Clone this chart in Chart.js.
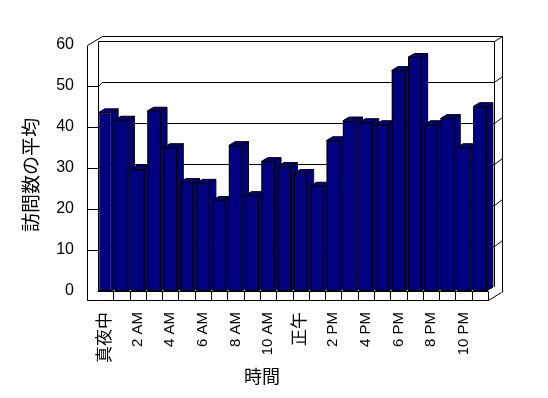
<!DOCTYPE html>
<html>
<head>
<meta charset="utf-8">
<script src="https://cdn.jsdelivr.net/npm/chart.js@4/dist/chart.umd.min.js"></script>
<style>
html,body{margin:0;padding:0;background:#fff;}
#wrap{width:548px;height:398px;}
</style>
</head>
<body>
<div id="wrap"><canvas id="c" width="548" height="398"></canvas></div>
<script>
// ---- data ----
const hours = ['真夜中','1 AM','2 AM','3 AM','4 AM','5 AM','6 AM','7 AM','8 AM','9 AM','10 AM','11 AM',
               '正午','1 PM','2 PM','3 PM','4 PM','5 PM','6 PM','7 PM','8 PM','9 PM','10 PM','11 PM'];
const visits = [43.5,41.7,29.8,43.9,35.0,26.5,26.3,22.1,35.5,23.3,31.6,30.4,
                28.7,25.6,36.7,41.5,41.1,40.6,53.8,57.0,40.6,42.1,35.0,45.0];
const yTickValues = [0,10,20,30,40,50,60];
const xTitle = '時間';
const yTitle = '訪問数の平均';

const FONT = "'Liberation Sans', 'Noto Sans CJK JP', sans-serif";
const CJK = "'Noto Sans CJK JP', sans-serif";
const NAVY = '#000080';
const DX = 6.3, DY = -3.8;

const r = v => Math.round(v) + 0.5;

const deco = {
  id: 'deco',
  beforeDatasetsDraw(chart) {
    const {ctx, chartArea: {left: L, right: R, top: T, bottom: B}, scales: {y}} = chart;
    ctx.save();
    ctx.strokeStyle = '#000';
    ctx.lineWidth = 1;
    const line = pts => { ctx.beginPath(); pts.forEach((p, i) => i ? ctx.lineTo(r(p[0]), r(p[1])) : ctx.moveTo(r(p[0]), r(p[1]))); ctx.stroke(); };
    const xo = L - 10;
    yTickValues.forEach(v => {
      if (v === 0 || v === 60) return;
      const yf = y.getPixelForValue(v);
      line([[xo, yf], [L + 1, yf], [L + 5, yf - 4], [R + 6, yf - 4], [R + 14, yf - 10]]);
    });
    line([[xo, T], [L + 5, T - 9], [R + 14, T - 9]]);
    line([[L + 1, T - 4], [R + 6, T - 4], [R + 14, T - 9]]);
    line([[xo, T], [xo, B + 9]]);
    line([[L + 1, T - 4], [L + 1, B]]);
    line([[R + 6, T - 4], [R + 6, B]]);
    line([[R + 14, T - 9], [R + 14, B + 1]]);
    ctx.restore();
  },
  afterDatasetsDraw(chart) {
    const {ctx, chartArea: {left: L, right: R, bottom: B}, scales: {x}} = chart;
    const els = chart.getDatasetMeta(0).data;
    ctx.save();
    ctx.lineWidth = 1;
    ctx.strokeStyle = '#000';
    const poly = pts => { ctx.beginPath(); pts.forEach((p, i) => i ? ctx.lineTo(p[0], p[1]) : ctx.moveTo(p[0], p[1])); ctx.closePath(); ctx.fillStyle = NAVY; ctx.fill(); ctx.stroke(); };
    const front = el => {
      const p = el.getProps(['x', 'y', 'base', 'width'], true);
      const x1 = p.x - p.width / 2;
      ctx.fillStyle = '#000';
      ctx.fillRect(x1, p.y, p.width, p.base - p.y);
      ctx.fillStyle = NAVY;
      ctx.fillRect(x1 + 1, p.y + 1, p.width - 2, p.base - p.y - 2);
    };
    els.forEach((el, i) => {
      const p = el.getProps(['x', 'y', 'base', 'width'], true);
      const x1 = p.x - p.width / 2, x2 = p.x + p.width / 2;
      poly([[x2, p.y], [x2 + DX, p.y + DY], [x2 + DX, p.base + DY], [x2, p.base]]);
      poly([[x1, p.y], [x1 + DX, p.y + DY], [x2 + DX, p.y + DY], [x2, p.y]]);
      if (i + 1 < els.length) front(els[i + 1]);
    });
    // floor slab
    const xo = L - 10;
    ctx.fillStyle = '#fff';
    ctx.beginPath();
    ctx.moveTo(L, B); ctx.lineTo(R, B); ctx.lineTo(R + 13, B - 8); ctx.lineTo(R + 13, B + 1);
    ctx.lineTo(R, B + 9); ctx.lineTo(xo, B + 9); ctx.lineTo(xo, B); ctx.closePath();
    ctx.fill();
    const line = pts => { ctx.beginPath(); pts.forEach((q, i) => i ? ctx.lineTo(r(q[0]), r(q[1])) : ctx.moveTo(r(q[0]), r(q[1]))); ctx.stroke(); };
    line([[L, B], [R, B]]);
    line([[xo, B + 9], [R, B + 9], [R + 13, B + 1]]);
    line([[xo, B - 10], [xo, B + 9]]);
    const w = (R - L) / hours.length;
    hours.forEach((h, i) => {
      const xb = x.getPixelForValue(i) + w / 2;
      line([[xb, B], [xb, B + 9]]);
    });
    // axis titles
    ctx.fillStyle = '#000';
    ctx.textAlign = 'center';
    ctx.textBaseline = 'middle';
    ctx.font = '18px ' + CJK;
    ctx.fillText(xTitle, 262, 376);
    ctx.font = '19px ' + CJK;
    ctx.translate(31, 175);
    ctx.rotate(-Math.PI / 2);
    ctx.fillText(yTitle, 0, 0);
    ctx.restore();
  }
};

new Chart(document.getElementById('c'), {
  type: 'bar',
  data: {
    labels: hours,
    datasets: [{
      data: visits,
      backgroundColor: NAVY,
      borderColor: '#000',
      borderWidth: 1,
      borderSkipped: false,
      barPercentage: 0.82,
      categoryPercentage: 1.0
    }]
  },
  options: {
    responsive: false,
    animation: false,
    devicePixelRatio: 1,
    layout: {padding: {left: 0, right: 60, top: 45, bottom: 0}},
    plugins: {legend: {display: false}, tooltip: {enabled: false}, title: {display: false}},
    scales: {
      x: {
        grid: {display: false, drawTicks: false},
        border: {display: false},
        afterFit: s => { s.height = 107; },
        ticks: {
          autoSkip: false,
          minRotation: 90,
          maxRotation: 90,
          padding: 21,
          color: '#000',
          font: c => ({family: FONT, size: /[^\x00-\x7f]/.test(hours[c.index] || '') ? 17 : 15}),
          callback: (v, i) => (i % 2 === 0 ? hours[i] : '')
        }
      },
      y: {
        min: 0, max: 60,
        grid: {display: false, drawTicks: false},
        border: {display: false},
        afterFit: s => { s.width = 97; },
        afterBuildTicks: s => { s.ticks = yTickValues.map(v => ({value: v})); },
        ticks: {padding: 23, color: '#000', font: {family: FONT, size: 16}}
      }
    }
  },
  plugins: [deco]
});
</script>
</body>
</html>
